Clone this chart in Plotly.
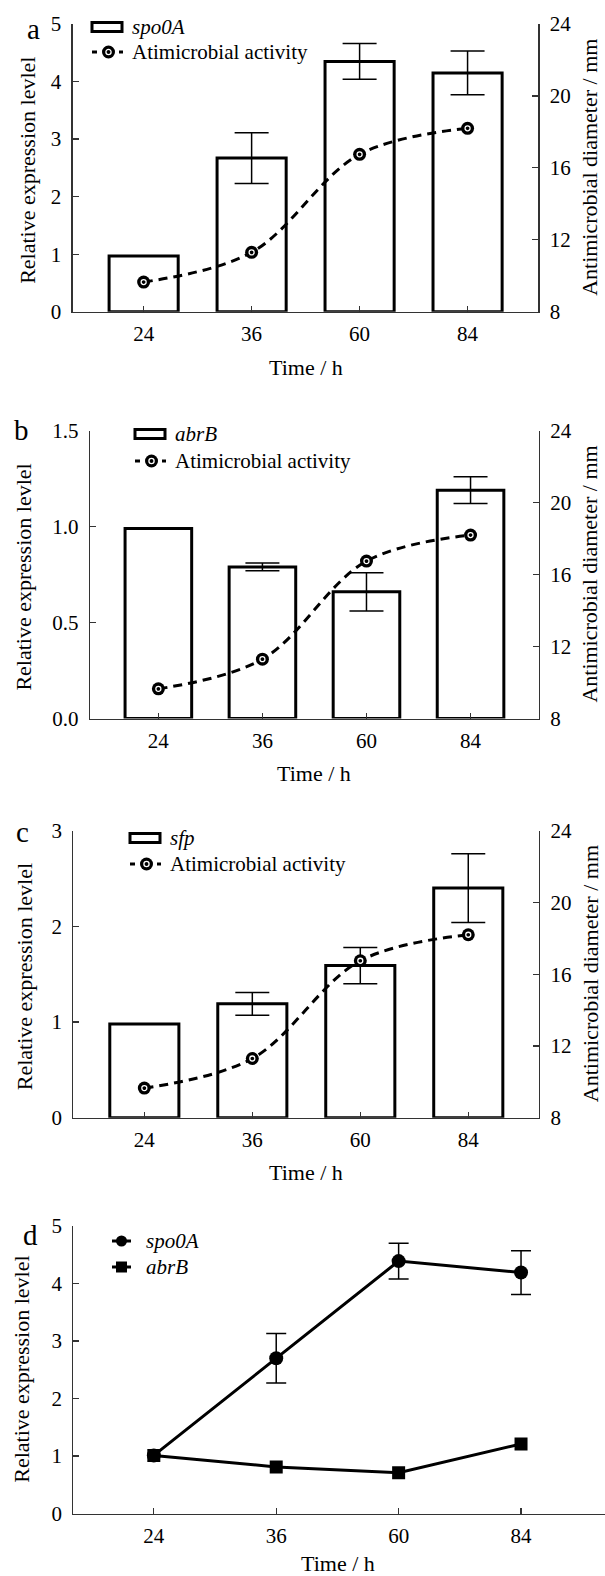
import plotly.graph_objects as go

# ---------------- data ----------------
time_labels = ["24", "36", "60", "84"]

spo0A_expr = [0.97, 2.67, 4.35, 4.15]
spo0A_sd = [0.0, 0.44, 0.31, 0.38]

abrB_expr = [0.99, 0.79, 0.66, 1.19]
abrB_sd = [0.0, 0.02, 0.10, 0.07]

sfp_expr = [0.98, 1.19, 1.59, 2.40]
sfp_sd = [0.0, 0.12, 0.19, 0.36]

activity_mm = [9.65, 11.3, 16.75, 18.2]

d_spo0A = [1.01, 2.70, 4.39, 4.19]
d_spo0A_sd = [0.0, 0.43, 0.31, 0.38]
d_abrB = [1.01, 0.81, 0.71, 1.21]

left_ticks_a = [0, 1, 2, 3, 4, 5]
left_ticks_b = [0.0, 0.5, 1.0, 1.5]
left_ticks_c = [0, 1, 2, 3]
right_ticks = [8, 12, 16, 20, 24]

# ---------------- style ----------------
W, H = 605, 1576
FONT = "Liberation Serif, 'Times New Roman', Times, serif"
INK = "black"
AX = "#333333"
TICK_SIZE = 21
TITLE_SIZE = 22


def px_x(x):
    return x / W


def px_y(y):
    return 1 - y / H


def xaxis_cfg(left, right, rng, anchor):
    return dict(
        domain=[px_x(left), min(1.0, px_x(right))], anchor=anchor, type="category",
        categoryorder="array", categoryarray=time_labels, range=rng, automargin=False,
        showline=True, linecolor=AX, linewidth=1.3, ticks="inside", ticklen=6,
        tickwidth=1.2, tickcolor=AX, showgrid=False, zeroline=False,
        tickfont=dict(family=FONT, size=TICK_SIZE, color=INK), ticklabelstandoff=3,
    )


def yaxis_cfg(top, bottom, rng, tickvals, anchor, fmt=None, side="left", overlaying=None):
    d = dict(
        domain=[px_y(bottom), px_y(top)], anchor=anchor, range=rng, tickvals=tickvals,
        automargin=False,
        showline=True, linecolor=AX, linewidth=1.3, ticks="inside", ticklen=6,
        tickwidth=1.2, tickcolor=AX, showgrid=False, zeroline=False, side=side,
        tickfont=dict(family=FONT, size=TICK_SIZE, color=INK), ticklabelstandoff=6,
    )
    if fmt:
        d["tickformat"] = fmt
    if overlaying:
        d["overlaying"] = overlaying
    return d


fig = go.Figure()
annotations = []
shapes = []


def ann(text, x, y, size=TICK_SIZE, angle=0, xanchor="center", yanchor="middle"):
    annotations.append(dict(
        text=text, x=px_x(x), y=px_y(y), xref="paper", yref="paper", showarrow=False,
        textangle=angle, xanchor=xanchor, yanchor=yanchor,
        font=dict(family=FONT, size=size, color=INK)))


def legend_bar_line(x0, y1, y2, gene, tx):
    # bar glyph
    shapes.append(dict(type="rect", xref="paper", yref="paper",
                       x0=px_x(x0), x1=px_x(x0 + 30), y0=px_y(y1 + 4.5), y1=px_y(y1 - 4.5),
                       line=dict(color="black", width=3), fillcolor="white"))
    ann("<i>%s</i>" % gene, tx, y1, xanchor="left")
    # dashed line + marker glyph
    shapes.append(dict(type="line", xref="paper", yref="paper",
                       x0=px_x(x0), x1=px_x(x0 + 5), y0=px_y(y2), y1=px_y(y2),
                       line=dict(color="black", width=3)))
    shapes.append(dict(type="line", xref="paper", yref="paper",
                       x0=px_x(x0 + 27), x1=px_x(x0 + 31), y0=px_y(y2), y1=px_y(y2),
                       line=dict(color="black", width=3)))
    cx = x0 + 16.5
    shapes.append(dict(type="circle", xref="paper", yref="paper",
                       x0=px_x(cx - 6.5), x1=px_x(cx + 6.5), y0=px_y(y2 + 6.5), y1=px_y(y2 - 6.5),
                       line=dict(color="black", width=0), fillcolor="black"))
    shapes.append(dict(type="circle", xref="paper", yref="paper",
                       x0=px_x(cx - 2.6), x1=px_x(cx + 2.6), y0=px_y(y2 + 2.6), y1=px_y(y2 - 2.6),
                       line=dict(color="white", width=1.3), fillcolor="rgba(0,0,0,0)"))
    ann("Atimicrobial activity", tx, y2, xanchor="left")


panels = [
    dict(letter="a", gene="spo0A", expr=spo0A_expr, sd=spo0A_sd, ticks=left_ticks_a, yr=[0, 5], fmt=None,
         left=72.7, right=538.3, top=24.0, bottom=311.7, letter_xy=(33, 29),
         leg=(92, 27, 52, 130), time_y=367, ltitle_x=28),
    dict(letter="b", gene="abrB", expr=abrB_expr, sd=abrB_sd, ticks=left_ticks_b, yr=[0, 1.5], fmt=".1f",
         left=90.0, right=538.7, top=430.7, bottom=718.5, letter_xy=(21, 430),
         leg=(135, 434, 461, 173), time_y=773, ltitle_x=24),
    dict(letter="c", gene="sfp", expr=sfp_expr, sd=sfp_sd, ticks=left_ticks_c, yr=[0, 3], fmt=None,
         left=73.4, right=539.0, top=830.7, bottom=1117.7, letter_xy=(22, 832),
         leg=(130, 838, 864, 168), time_y=1172, ltitle_x=24),
]

layout_axes = {}
for i, p in enumerate(panels):
    n = i + 1
    xa = "x" if n == 1 else "x%d" % n
    ya_l = "y" if n == 1 else "y%d" % (2 * n - 1)
    ya_r = "y%d" % (2 * n)
    xname = "xaxis" if n == 1 else "xaxis%d" % n
    yname_l = "yaxis" if n == 1 else "yaxis%d" % (2 * n - 1)
    yname_r = "yaxis%d" % (2 * n)

    rng = [-0.657, 3.655]
    layout_axes[xname] = xaxis_cfg(p["left"], p["right"], rng, ya_l)
    layout_axes[yname_l] = yaxis_cfg(p["top"], p["bottom"], p["yr"], p["ticks"], xa, p["fmt"])
    layout_axes[yname_r] = yaxis_cfg(p["top"], p["bottom"], [8, 24], right_ticks, xa,
                                     side="right", overlaying=ya_l)

    fig.add_trace(go.Bar(
        x=time_labels, y=p["expr"], width=0.64, xaxis=xa, yaxis=ya_l,
        marker=dict(color="white", line=dict(color="black", width=3)),
        error_y=dict(type="data", array=p["sd"], color="black", thickness=1.5, width=17),
        name=p["gene"], showlegend=False))
    fig.add_trace(go.Scatter(
        x=time_labels, y=activity_mm, xaxis=xa, yaxis=ya_r, mode="lines+markers",
        line=dict(color="black", width=3, dash="9px,6px", shape="spline", smoothing=1),
        marker=dict(size=13, color="black"), name="Atimicrobial activity", showlegend=False))
    fig.add_trace(go.Scatter(
        x=time_labels, y=activity_mm, xaxis=xa, yaxis=ya_r, mode="markers",
        marker=dict(symbol="circle-open", size=5, color="white", line=dict(color="white", width=1.3)),
        hoverinfo="skip", showlegend=False))

    cy = (p["top"] + p["bottom"]) / 2
    cx = (p["left"] + p["right"]) / 2
    ann(p["letter"], p["letter_xy"][0], p["letter_xy"][1], size=29)
    ann("Relative expression levlel", p["ltitle_x"], cy + 3, size=TITLE_SIZE, angle=-90)
    ann("Antimicrobial diameter / mm", 590, cy, size=TITLE_SIZE, angle=-90)
    ann("Time / h", cx, p["time_y"], size=TITLE_SIZE)
    lx, ly1, ly2, tx = p["leg"]
    legend_bar_line(lx, ly1, ly2, p["gene"], tx)

# ---------------- panel d ----------------
d_left, d_right, d_top, d_bottom = 73.4, 605.0, 1226.0, 1513.5
layout_axes["xaxis4"] = xaxis_cfg(d_left, d_right, [-0.657, 3.686], "y7")
layout_axes["yaxis7"] = yaxis_cfg(d_top, d_bottom, [0, 5], left_ticks_a, "x4")

fig.add_trace(go.Scatter(
    x=time_labels, y=d_spo0A, xaxis="x4", yaxis="y7", mode="lines+markers",
    line=dict(color="black", width=3), marker=dict(symbol="circle", size=14, color="black"),
    name="spo0A", showlegend=False))
err_idx = [i for i, s in enumerate(d_spo0A_sd) if s > 0]
fig.add_trace(go.Scatter(
    x=[time_labels[i] for i in err_idx], y=[d_spo0A[i] for i in err_idx], xaxis="x4", yaxis="y7",
    mode="markers", marker=dict(size=1, color="rgba(0,0,0,0)"),
    error_y=dict(type="data", array=[d_spo0A_sd[i] for i in err_idx], color="black", thickness=1.5, width=10),
    hoverinfo="skip", showlegend=False))
fig.add_trace(go.Scatter(
    x=time_labels, y=d_abrB, xaxis="x4", yaxis="y7", mode="lines+markers",
    line=dict(color="black", width=3), marker=dict(symbol="square", size=13, color="black"),
    name="abrB", showlegend=False))

ann("d", 30, 1235, size=29)
ann("Relative expression levlel", 22, (d_top + d_bottom) / 2, size=TITLE_SIZE, angle=-90)
ann("Time / h", 338, 1563, size=TITLE_SIZE)

# panel d legend
for gy, gene, sym in [(1241, "spo0A", "circle"), (1267, "abrB", "square")]:
    shapes.append(dict(type="line", xref="paper", yref="paper",
                       x0=px_x(112), x1=px_x(131), y0=px_y(gy), y1=px_y(gy),
                       line=dict(color="black", width=3)))
    shapes.append(dict(type=("circle" if sym == "circle" else "rect"), xref="paper", yref="paper",
                       x0=px_x(121.5 - 5.5), x1=px_x(121.5 + 5.5), y0=px_y(gy + 5.5), y1=px_y(gy - 5.5),
                       line=dict(color="black", width=0), fillcolor="black"))
    ann("<i>%s</i>" % gene, 143.5, gy, xanchor="left")

fig.update_layout(
    template="none",
    width=W, height=H, margin=dict(l=0, r=0, t=0, b=0, pad=0, autoexpand=False),
    paper_bgcolor="white", plot_bgcolor="white", showlegend=False, hovermode=False,
    bargap=0.36, annotations=annotations, shapes=shapes,
    font=dict(family=FONT, color=INK),
    **layout_axes,
)

fig.write_html("out.html", config={"displayModeBar": False, "staticPlot": True},
               post_script="document.body.style.margin='0';document.body.style.overflow='hidden';")
